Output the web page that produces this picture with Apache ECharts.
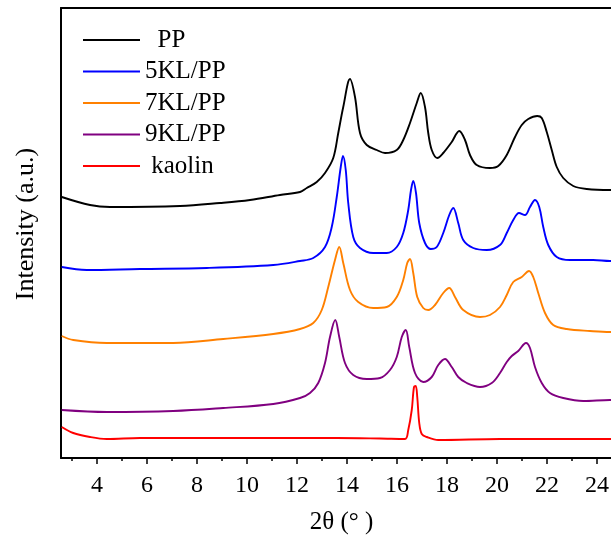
<!DOCTYPE html>
<html>
<head>
<meta charset="utf-8">
<script src="https://cdn.jsdelivr.net/npm/echarts@6/dist/echarts.min.js"></script>
<style>
html,body{margin:0;padding:0;background:#fff;}
#chart{width:611px;height:535px;}
</style>
</head>
<body>
<div id="chart"></div>
<script>
// XRD patterns: [2θ (°), intensity (a.u., curves offset vertically)]
var seriesNames = ['PP', '5KL/PP', '7KL/PP', '9KL/PP', 'kaolin'];
var seriesColors = ['#000000', '#0000ff', '#ff8000', '#800080', '#ff0000'];

var ppData = [
  [2.59,261],[3.72,253],[4.52,251],[7.32,252],[8.92,255],[10.12,258],[11.32,263],[12.12,266],
  [12.39,270],[12.79,276],[13.12,285],[13.45,300],[13.65,325],[13.85,351],[14.12,379],[14.32,361],
  [14.52,325],[14.79,313],[15.19,308],[15.52,305],[15.99,308],[16.25,318],[16.52,335],[16.79,355],
  [16.95,365],[17.12,351],[17.25,325],[17.39,308],[17.61,300],[17.85,305],[18.19,316],[18.49,327],
  [18.72,318],[18.92,303],[19.19,293],[19.72,290],[20.05,292],[20.39,303],[20.72,321],[20.99,333],
  [21.25,339],[21.61,342],[21.79,340],[21.99,326],[22.19,308],[22.39,291],[22.65,280],[23.05,272],
  [23.59,269],[24.52,268],[25.0,268]
];
var kl5Data = [
  [2.59,191],[3.59,188],[5.72,189],[8.39,190],[11.05,193],[12.12,197],[12.65,200],[13.12,211],
  [13.39,231],[13.59,261],[13.75,291],[13.84,302],[13.95,288],[14.05,255],[14.25,221],[14.52,210],
  [15.05,205],[15.59,205],[15.99,211],[16.25,225],[16.45,248],[16.56,268],[16.65,277],[16.76,265],
  [16.89,235],[17.12,215],[17.35,209],[17.59,211],[17.85,225],[18.09,243],[18.25,250],[18.45,235],
  [18.65,218],[19.05,210],[19.59,208],[20.12,213],[20.39,225],[20.65,238],[20.88,245],[21.12,243],
  [21.32,251],[21.52,258],[21.69,251],[21.85,231],[22.05,213],[22.39,201],[22.92,198],[23.85,198],
  [24.52,197],[25.0,197]
];
var kl7Data = [
  [2.59,122],[3.05,118],[4.39,115],[7.05,115],[9.05,119],[11.05,124],[12.12,129],[12.65,135],
  [12.99,148],[13.25,171],[13.52,198],[13.69,211],[13.85,195],[14.12,168],[14.45,156],[15.05,150],
  [15.59,151],[15.99,161],[16.25,178],[16.41,195],[16.52,199],[16.65,185],[16.81,161],[17.05,150],
  [17.25,148],[17.52,153],[17.85,165],[18.09,170],[18.32,161],[18.65,148],[19.32,141],[19.72,143],
  [20.12,151],[20.39,163],[20.65,176],[20.99,181],[21.28,187],[21.45,181],[21.65,165],[21.92,145],
  [22.25,133],[22.79,129],[23.72,127],[24.52,126],[25.0,126]
];
var kl9Data = [
  [2.59,48],[4.39,46],[7.05,47],[9.05,50],[11.05,54],[12.12,60],[12.52,65],[12.85,75],
  [13.12,95],[13.32,121],[13.53,138],[13.69,121],[13.92,95],[14.25,83],[14.79,79],[15.32,80],
  [15.72,88],[15.99,101],[16.19,121],[16.35,128],[16.49,111],[16.72,85],[17.05,76],[17.39,81],
  [17.65,93],[17.92,99],[18.19,91],[18.45,81],[18.79,75],[19.32,71],[19.79,75],[20.12,85],
  [20.39,96],[20.59,102],[20.85,107],[21.16,115],[21.32,110],[21.52,91],[21.79,75],[22.12,65],
  [22.65,60],[23.45,57],[24.52,58],[25.0,58]
];
var kaolinData = [
  [2.59,31],[3.05,25],[3.72,21],[4.39,19],[5.72,20],[8.39,20],[11.05,20],[13.59,20],
  [15.32,19.5],[16.32,19],[16.45,28],[16.59,48],[16.68,71],[16.75,72],[16.81,61],[16.89,35],
  [16.99,24],[17.19,21],[17.65,18],[20.12,19],[24.52,19],[25.0,19]
];

var xTickValues = [4, 6, 8, 10, 12, 14, 16, 18, 20, 22, 24];
var xMinorTickValues = [3, 5, 7, 9, 11, 13, 15, 17, 19, 21, 23];
var xMin = 2.56, xMax = 25;
var allData = [ppData, kl5Data, kl7Data, kl9Data, kaolinData];

var font = 'Liberation Serif, Times New Roman, serif';
var chart = echarts.init(document.getElementById('chart'), null, {renderer: 'canvas'});

var series = seriesNames.map(function (n, i) {
  return {
    name: n, type: 'line', data: allData[i], showSymbol: false, smooth: 0.35,
    lineStyle: {color: seriesColors[i], width: 1.9}, itemStyle: {color: seriesColors[i]},
    clip: true, animation: false, xAxisIndex: 0
  };
});

var hiddenAxisBase = {
  type: 'value', min: xMin, max: xMax, axisLine: {show: false},
  axisLabel: {show: false}, splitLine: {show: false}
};

chart.setOption({
  animation: false,
  backgroundColor: '#ffffff',
  grid: {left: 61, top: 8, width: 561, height: 450, containLabel: false, outerBoundsMode: 'none'},
  legend: {
    orient: 'vertical', left: 83, top: 27, padding: 0, icon: 'rect', itemWidth: 57, itemHeight: 2,
    itemGap: 5.5, data: seriesNames,
    formatter: function (n) { return n === 'PP' ? '  PP' : (n === 'kaolin' ? ' kaolin' : n); },
    textStyle: {fontFamily: font, fontSize: 25, color: '#000', lineHeight: 26}
  },
  xAxis: [{
    type: 'value', min: xMin, max: xMax, position: 'bottom',
    name: '2θ (° )', nameLocation: 'middle', nameGap: 52,
    nameTextStyle: {fontFamily: font, fontSize: 25, color: '#000'},
    axisLine: {show: true, onZero: false, lineStyle: {color: '#000', width: 2}},
    axisTick: {show: true, length: 6, lineStyle: {color: '#000', width: 1.5},
      customValues: xTickValues},
    minorTick: {show: false},
    axisLabel: {fontFamily: font, fontSize: 24, color: '#000', margin: 16,
      customValues: xTickValues},
    splitLine: {show: false}
  }, {
    type: 'value', min: xMin, max: xMax, position: 'top',
    axisLine: {show: true, onZero: false, lineStyle: {color: '#000', width: 2}},
    axisTick: {show: false}, axisLabel: {show: false}, splitLine: {show: false}
  }, Object.assign({}, hiddenAxisBase, {
    position: 'bottom',
    axisTick: {show: true, length: 3, lineStyle: {color: '#000', width: 1.5},
      customValues: xMinorTickValues}
  })],
  yAxis: {
    type: 'value', min: 0, max: 450,
    name: 'Intensity (a.u.)', nameLocation: 'middle', nameGap: 22,
    nameTextStyle: {fontFamily: font, fontSize: 26, color: '#000', padding: [0, 0, 0, 18]},
    axisLine: {show: true, onZero: false, lineStyle: {color: '#000', width: 2}},
    axisTick: {show: false}, axisLabel: {show: false}, splitLine: {show: false}
  },
  series: series
});
</script>
</body>
</html>
